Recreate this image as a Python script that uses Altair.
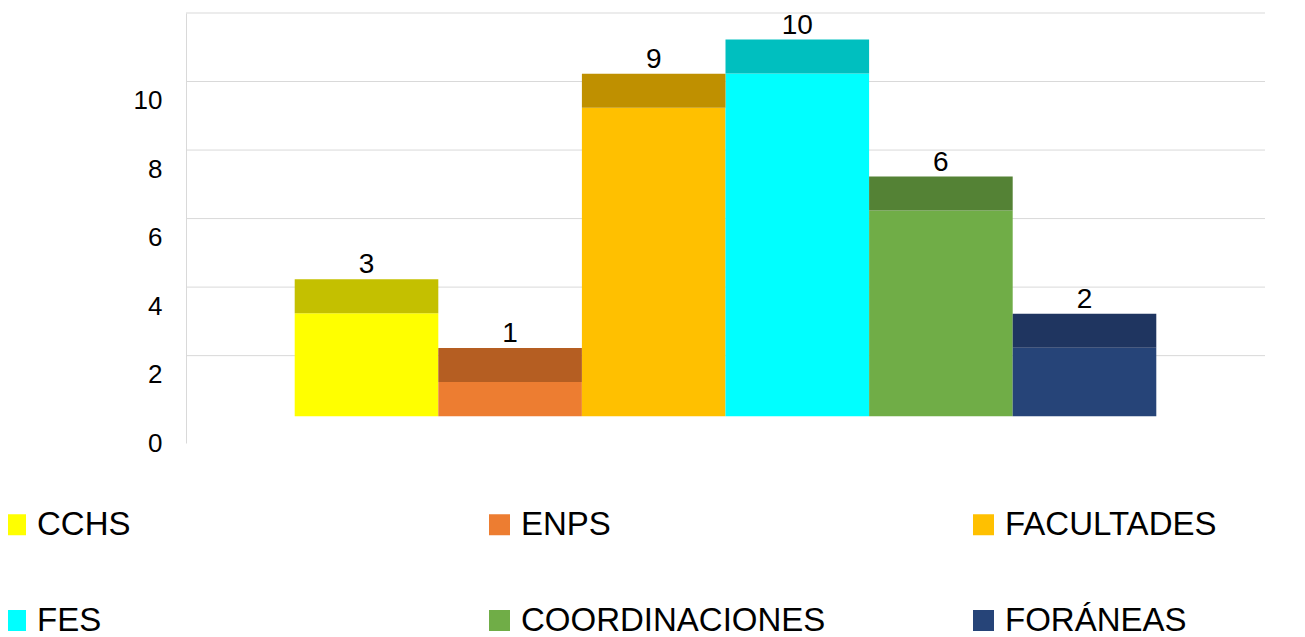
import altair as alt
import pandas as pd

categories = ["CCHS", "ENPS", "FACULTADES", "FES", "COORDINACIONES", "FORÁNEAS"]
values = [3, 1, 9, 10, 6, 2]
grid_values = [2, 4, 6, 8, 10, 12]
tick_values = [0, 2, 4, 6, 8, 10]

front_colors = ["#FFFF00", "#ED7D31", "#FFC000", "#00FFFF", "#70AD47", "#264478"]
top_colors = ["#C4C000", "#B55E22", "#BF9000", "#00BFBF", "#548235", "#1F3560"]

FONT = "Liberation Sans"
W, H = 1079, 430

df = pd.DataFrame({"categoria": categories, "valor": values})
grid_df = pd.DataFrame({"g": grid_values})

xenc = alt.X("categoria:N", sort=categories,
             scale=alt.Scale(paddingInner=0, paddingOuter=0.757), axis=None)
yscale = alt.Scale(domain=[-0.55, 12], nice=False, zero=False)
yaxis = alt.Axis(values=tick_values, grid=False, ticks=False, title=None,
                 domainColor="#D9D9D9", domainWidth=1,
                 labelFont=FONT, labelFontSize=26, labelColor="#000000",
                 labelPadding=24, labelOffset=19)

grid = alt.Chart(grid_df).mark_rule(color="#D9D9D9", strokeWidth=1).encode(
    y=alt.Y("g:Q", scale=yscale, axis=yaxis),
    x=alt.value(0), x2=alt.value(W),
)

front = alt.Chart(df).mark_bar(yOffset=-8, y2Offset=-8).encode(
    x=xenc,
    y=alt.Y("valor:Q", scale=yscale, axis=yaxis),
    y2=alt.datum(0),
    color=alt.Color("categoria:N", sort=categories,
                    scale=alt.Scale(domain=categories, range=front_colors),
                    legend=alt.Legend(title=None, orient="none", legendX=-187, legendY=495,
                                      columns=3, direction="horizontal", gridAlign="all",
                                      symbolType="square", symbolSize=441, symbolStrokeWidth=0,
                                      labelFont=FONT, labelFontSize=33, labelColor="#000000",
                                      labelOffset=5, columnPadding=141, rowPadding=62,
                                      padding=0, labelLimit=600)),
)

top = alt.Chart(df).mark_bar(yOffset=-42, y2Offset=-8).encode(
    x=xenc,
    y=alt.Y("valor:Q", scale=yscale, axis=yaxis),
    y2=alt.Y2("valor:Q"),
    color=alt.Color("categoria:N", sort=categories,
                    scale=alt.Scale(domain=categories, range=top_colors), legend=None),
)

labels = alt.Chart(df).mark_text(yOffset=-48, baseline="alphabetic", font=FONT,
                                 fontSize=28, color="#000000").encode(
    x=xenc,
    y=alt.Y("valor:Q", scale=yscale, axis=yaxis),
    text=alt.Text("valor:Q"),
)

chart = alt.layer(grid, front, top, labels).resolve_scale(color="independent").properties(
    width=W, height=H,
    autosize=alt.AutoSizeParams(type="none"),
    padding={"left": 178, "top": 5, "right": 30, "bottom": 194},
    background="#FFFFFF",
).configure_view(stroke=None)

chart.save("out.html", embed_options={"renderer": "svg", "actions": False})
